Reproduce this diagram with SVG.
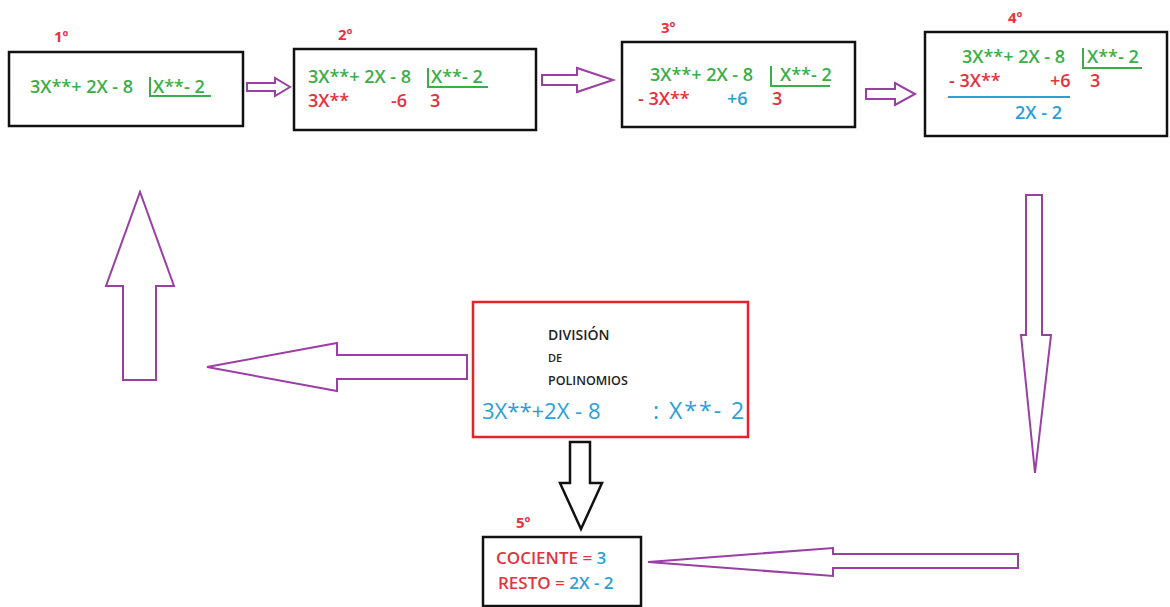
<svg xmlns="http://www.w3.org/2000/svg" width="1170" height="607" viewBox="0 0 1170 607">
<style>
text{font-family:"Open Sans","Noto Sans",sans-serif;font-weight:600}
.box{fill:#fff;stroke:#111;stroke-width:2.5}
.g{fill:#3aae4a;font-size:18px}
.r{fill:#e5323f;font-size:18px}
.b{fill:#2a9fd8;font-size:18px}
.lab{fill:#e5323f;font-size:15px;font-weight:700}
.arr{fill:#fff;stroke:#9a3fa3;stroke-width:2;stroke-linejoin:miter}
.ln{stroke:#3aae4a;stroke-width:2;fill:none}
</style>
<rect width="1170" height="607" fill="#fff"/>
<g id="connectors">
<polygon class="arr" points="247,83 275,83 275,78 290,87 275,96 275,91 247,91"/>
<polygon class="arr" points="542,75 577,75 577,68 613,80 577,92 577,85 542,85"/>
<polygon class="arr" points="866,89 895,89 895,83 915,94 895,105 895,99 866,99"/>
<polygon class="arr" points="1026,195 1042,195 1042,335 1051,335 1035,473 1021,335 1026,335"/>
<polygon class="arr" points="1018,554 833,554 833,548 648,562 833,576 833,568 1018,568"/>
<polygon class="arr" points="467,355 337,355 337,343 207,367 337,391 337,379 467,379"/>
<polygon class="arr" points="123,380 123,286 106,286 140,192 174,286 156,286 156,380"/>
<polygon points="570,442 590,442 590,483 602,483 581,529 560,483 570,483" fill="#fff" stroke="#111" stroke-width="2.5"/>
</g>
<g id="step1">
<rect class="box" x="9" y="52" width="234" height="74"/>
<text class="lab" x="54" y="42">1º</text>
<text class="g" x="30" y="93">3X**+ 2X - 8</text>
<text class="g" x="153" y="93">X**- 2</text>
<polyline class="ln" points="150,77 150,96 211,96"/>
</g>
<g id="step2">
<rect class="box" x="294" y="49" width="242" height="81"/>
<text class="lab" x="338" y="40">2º</text>
<text class="g" x="308" y="83">3X**+ 2X - 8</text>
<text class="g" x="431" y="83">X**- 2</text>
<polyline class="ln" points="428,68 428,87 488,87"/>
<text class="r" x="308" y="107">3X**</text>
<text class="r" x="391" y="107">-6</text>
<text class="r" x="430" y="107">3</text>
</g>
<g id="step3">
<rect class="box" x="622" y="42" width="233" height="85"/>
<text class="lab" x="661" y="33">3º</text>
<text class="g" x="650" y="81">3X**+ 2X - 8</text>
<text class="g" x="780" y="81">X**- 2</text>
<polyline class="ln" points="771,66 771,86 830,86"/>
<text class="r" x="638" y="105">- 3X**</text>
<text class="b" x="727" y="105">+6</text>
<text class="r" x="772" y="105">3</text>
</g>
<g id="step4">
<rect class="box" x="925" y="32" width="242" height="104"/>
<text class="lab" x="1008" y="23">4º</text>
<text class="g" x="962" y="63">3X**+ 2X - 8</text>
<text class="g" x="1087" y="63">X**- 2</text>
<polyline class="ln" points="1083,48 1083,68 1142,68"/>
<text class="r" x="949" y="87">- 3X**</text>
<text class="r" x="1050" y="87">+6</text>
<text class="r" x="1090" y="87">3</text>
<line x1="948" y1="97" x2="1070" y2="97" stroke="#2a9fd8" stroke-width="2"/>
<text class="b" x="1015" y="119">2X - 2</text>
</g>
<g id="division">
<rect x="473" y="302" width="275" height="135" fill="#fff" stroke="#e5232b" stroke-width="2.5"/>
<text x="548" y="340" fill="#222" font-size="14">DIVISIÓN</text>
<text x="548" y="362" fill="#222" font-size="11">DE</text>
<text x="548" y="385" fill="#222" font-size="12.5">POLINOMIOS</text>
<text class="b" x="482" y="419" style="font-size:22px;font-weight:400">3X**+2X - 8</text>
<text class="b" x="653" y="419" style="font-size:23px;font-weight:400;letter-spacing:2px">: X**- 2</text>
</g>
<g id="step5">
<rect class="box" x="483" y="537" width="158" height="69"/>
<text class="lab" x="516" y="528">5º</text>
<text class="r" x="496" y="564" style="font-size:17px">COCIENTE = <tspan fill="#2a9fd8">3</tspan></text>
<text class="r" x="498" y="589" style="font-size:17px">RESTO = <tspan fill="#2a9fd8">2X - 2</tspan></text>
</g>
</svg>
